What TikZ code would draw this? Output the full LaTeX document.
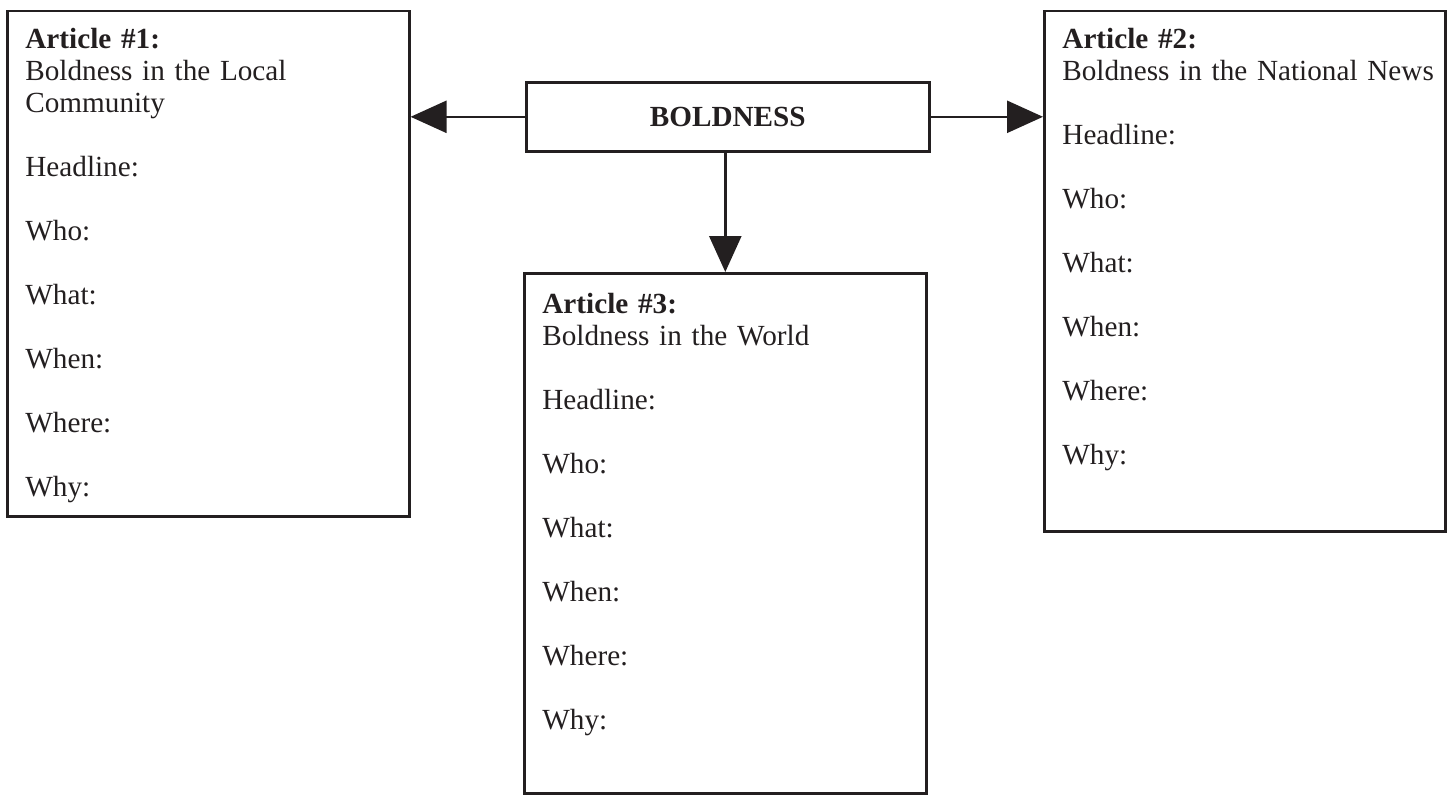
\documentclass[tikz,border=0pt]{standalone}
\usepackage{fontspec}
\setmainfont{Liberation Serif}
\usepackage{xcolor}
\usetikzlibrary{arrows.meta,positioning}
\definecolor{ink}{HTML}{231F20}

\tikzset{
	artbox/.style={draw=ink,line width=1.3pt,anchor=north west,inner sep=0pt,text=ink,
		font=\fontsize{14.6pt}{16pt}\selectfont},
	boxtext/.style={inner sep=0pt,text width=195pt,align=left,text=ink,
		font=\fontsize{14.6pt}{16pt}\selectfont},
	link/.style={draw=ink,line width=1.3pt,-{Triangle[length=18pt,width=16pt]}}
}

\begin{document}
\begin{tikzpicture}[x=0.5pt,y=-0.5pt]

	\useasboundingbox (0,0) rectangle (1449,794);

	% the three article boxes and the topic box
	\node[artbox,minimum width=201pt,minimum height=252.75pt] (art1) at (6,9.5) {};
	\node[artbox,minimum width=200.5pt,minimum height=260.25pt] (art2) at (1043,9.5) {};
	\node[artbox,minimum width=201pt,minimum height=260pt] (art3) at (523,272) {};
	\node[artbox,minimum width=201.5pt,minimum height=34.5pt] (bold) at (525,81) {\textbf{BOLDNESS}};

	% texts in the boxes
	\node[boxtext,below right=19.5pt and 9.5pt of art1.north west,anchor=base west] (text1) {\textbf{Article \#1:}\\
		Boldness in the Local\\
		Community\\[16pt]
		Headline:\\[16pt]
		Who:\\[16pt]
		What:\\[16pt]
		When:\\[16pt]
		Where:\\[16pt]
		Why:};
	\node[boxtext,below right=19.5pt and 9.5pt of art2.north west,anchor=base west] (text2) {\textbf{Article \#2:}\\
		Boldness in the National News\\[16pt]
		Headline:\\[16pt]
		Who:\\[16pt]
		What:\\[16pt]
		When:\\[16pt]
		Where:\\[16pt]
		Why:};
	\node[boxtext,below right=20.5pt and 9.5pt of art3.north west,anchor=base west] (text3) {\textbf{Article \#3:}\\
		Boldness in the World\\[16pt]
		Headline:\\[16pt]
		Who:\\[16pt]
		What:\\[16pt]
		When:\\[16pt]
		Where:\\[16pt]
		Why:};

	% arrows
	\draw[link] (bold.west) -- (bold.west -| art1.east);
	\draw[link] (bold.east) -- (bold.east -| art2.west);
	\draw[link] (bold.south -| art3.north) -- (art3.north);

\end{tikzpicture}
\end{document}
